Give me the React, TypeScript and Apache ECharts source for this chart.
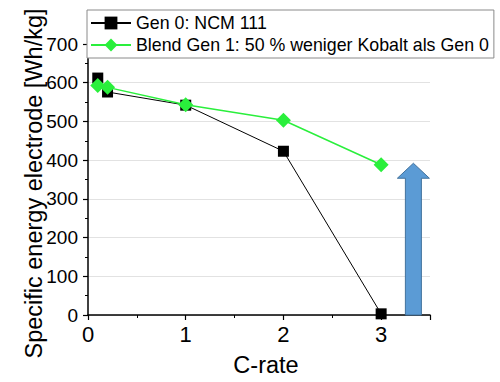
import React, { useEffect, useRef } from "react";
import * as echarts from "echarts";

const cRates = [0.1, 0.2, 1, 2, 3];
const gen0Values = [612, 576, 542, 423, 3];
const blendValues = [593, 588, 543, 503, 388];
const seriesNames = ["Gen 0: NCM 111", "Blend Gen 1: 50 % weniger Kobalt als Gen 0"];
const arrowPoint = [3.33, 392];
const yTickMax = 700;
const xTickMax = 3.5;

export default function App() {
  const ref = useRef<HTMLDivElement>(null);
  useEffect(() => {
    if (!ref.current) return;
    const chart = echarts.init(ref.current, null, { renderer: "svg" });
    const font = "Liberation Sans, Arial, sans-serif";
    chart.setOption({
      animation: false,
      backgroundColor: "#ffffff",
      grid: { left: 88, right: 70, top: 44, bottom: 65, containLabel: false },
      legend: {
        orient: "vertical",
        left: 87,
        top: 10,
        padding: [4, 5, 4, 3],
        itemGap: 4,
        itemWidth: 40,
        itemHeight: 16,
        backgroundColor: "#ffffff",
        borderColor: "#8a8a8a",
        borderWidth: 1,
        borderRadius: 0,
        data: seriesNames,
        textStyle: { fontFamily: font, fontSize: 17.8, color: "#000", padding: [0, 0, 0, 0] },
      },
      xAxis: {
        type: "value",
        min: 0,
        max: xTickMax,
        interval: 1,
        name: "C-rate",
        nameLocation: "middle",
        nameGap: 38,
        nameTextStyle: { fontFamily: font, fontSize: 23.5, color: "#000", padding: [0, 0, 0, 14] },
        axisLine: { lineStyle: { color: "#000", width: 1.5 } },
        axisTick: { show: true, inside: false, length: 5, lineStyle: { color: "#000", width: 1.2 } },
        minorTick: { show: true, splitNumber: 2, length: 3, lineStyle: { color: "#000", width: 1 } },
        axisLabel: {
          fontFamily: font,
          fontSize: 22,
          color: "#000",
          margin: 8,
          formatter: (v: number) => (Number.isInteger(v) ? String(v) : ""),
        },
        splitLine: { show: false },
      },
      yAxis: {
        type: "value",
        min: 0,
        max: yTickMax,
        interval: 100,
        axisLine: { show: true, lineStyle: { color: "#000", width: 1.5 } },
        axisTick: { show: true, inside: false, length: 5, lineStyle: { color: "#000", width: 1.2 } },
        minorTick: { show: true, splitNumber: 2, length: 3, lineStyle: { color: "#000", width: 1 } },
        axisLabel: { fontFamily: font, fontSize: 19, color: "#000", margin: 10 },
        splitLine: { show: true, lineStyle: { color: "#e2e2e2", width: 1 } },
      },
      graphic: [
        {
          type: "text",
          x: 34,
          y: 183.5,
          rotation: Math.PI / 2,
          style: {
            text: "Specific energy electrode [Wh/kg]",
            font: `23.5px ${font}`,
            fill: "#000",
            align: "center",
            verticalAlign: "middle",
          },
        },
      ],
      series: [
        {
          name: seriesNames[0],
          type: "line",
          data: cRates.map((x, i) => [x, gen0Values[i]]),
          symbol: "rect",
          symbolSize: 11,
          lineStyle: { color: "#000", width: 1 },
          itemStyle: { color: "#000" },
          z: 3,
        },
        {
          name: seriesNames[1],
          type: "line",
          data: cRates.map((x, i) => [x, blendValues[i]]),
          symbol: "diamond",
          symbolSize: 15,
          lineStyle: { color: "#2aef3c", width: 1.5 },
          itemStyle: { color: "#2aef3c" },
          z: 4,
        },
        {
          name: "arrow",
          type: "custom",
          data: [arrowPoint],
          encode: { x: 0, y: 1 },
          z: 2,
          renderItem: (params: any, api: any) => {
            const x = api.value(0);
            const top = api.value(1);
            const base = api.coord([x, 0]);
            const tip = api.coord([x, top]);
            const cx = base[0];
            const shaft = 8;
            const head = 16;
            const headH = 15;
            return {
              type: "polygon",
              shape: {
                points: [
                  [cx - shaft, base[1]],
                  [cx - shaft, tip[1] + headH],
                  [cx - head, tip[1] + headH],
                  [cx, tip[1]],
                  [cx + head, tip[1] + headH],
                  [cx + shaft, tip[1] + headH],
                  [cx + shaft, base[1]],
                ],
              },
              style: { fill: "#5b9bd5", stroke: "#41719c", lineWidth: 1 },
            };
          },
        },
      ],
    });
    return () => chart.dispose();
  }, []);
  return (
    <div
      ref={ref}
      style={{ position: "fixed", left: 0, top: 0, width: 500, height: 382, background: "#fff" }}
    />
  );
}
